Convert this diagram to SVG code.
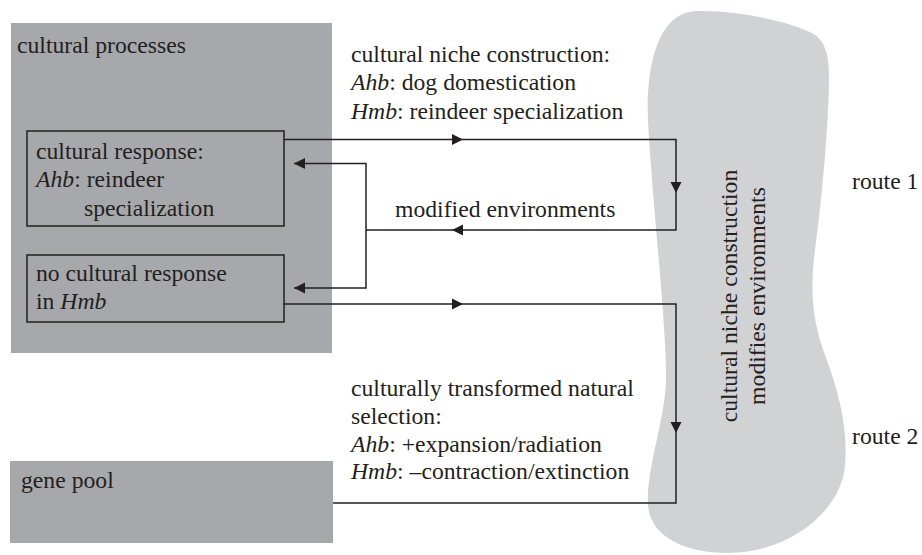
<svg xmlns="http://www.w3.org/2000/svg" xmlns:xlink="http://www.w3.org/1999/xlink" width="922" height="555" viewBox="0 0 922 555">
<style>
text{font-family:"Liberation Serif","Times New Roman",serif;font-size:23.7px;fill:#231f20}
.i{font-style:italic}
.box{fill:#a7a8ab}
.inner{fill:none;stroke:#231f20;stroke-width:1.5}
.conn{fill:none;stroke:#231f20;stroke-width:1.5}
.ah{fill:#231f20}
</style>
<defs>
<path id="ah" d="M0,0 L-11,-5.5 L-11,5.5 Z"/>
</defs>
<rect width="922" height="555" fill="#ffffff"/>
<g id="environment">
<path d="M697,11 C740,10 790,22 812,33 C825,40 829,55 829,75 C829,120 822,200 815,250 C810,290 812,320 825,355 C840,395 848,430 845,465 C842,510 790,553 728,553 C682,553 650,535 648,505 C646,470 665,420 666,380 C667,330 652,200 648,120 C646,60 660,12 697,11 Z" fill="#d1d2d4"/>
<text transform="translate(737,296) rotate(-90)" text-anchor="middle">cultural niche construction</text>
<text transform="translate(765,296) rotate(-90)" text-anchor="middle">modifies environments</text>
</g>
<g id="cultural-processes">
<rect class="box" x="11" y="23" width="321" height="330"/>
<text x="17" y="53">cultural processes</text>
</g>
<g id="cultural-response">
<rect class="inner" x="27" y="131" width="257" height="95"/>
<text x="36" y="159">cultural response:</text>
<text x="36" y="187"><tspan class="i">Ahb</tspan>: reindeer</text>
<text x="84" y="215.5">specialization</text>
</g>
<g id="no-cultural-response">
<rect class="inner" x="27" y="255" width="257" height="67"/>
<text x="36" y="281">no cultural response</text>
<text x="36" y="309">in <tspan class="i">Hmb</tspan></text>
</g>
<g id="gene-pool">
<rect class="box" x="10" y="461" width="323" height="82"/>
<text x="21" y="488">gene pool</text>
</g>
<g id="connectors">
<path class="conn" d="M284,139.5 H676 V230 H366"/>
<path class="conn" d="M294,163.5 H366 V288 H294"/>
<path class="conn" d="M284,304 H676 V503 H333"/>
<use class="ah" xlink:href="#ah" transform="translate(463,139.5)"/>
<use class="ah" xlink:href="#ah" transform="translate(676,193) rotate(90)"/>
<use class="ah" xlink:href="#ah" transform="translate(452,230) rotate(180)"/>
<use class="ah" xlink:href="#ah" transform="translate(294,163.5) rotate(180)"/>
<use class="ah" xlink:href="#ah" transform="translate(294,288) rotate(180)"/>
<use class="ah" xlink:href="#ah" transform="translate(463,304)"/>
<use class="ah" xlink:href="#ah" transform="translate(676,433) rotate(90)"/>
</g>
<g id="labels">
<text x="351" y="62">cultural niche construction:</text>
<text x="351" y="90"><tspan class="i">Ahb</tspan>: dog domestication</text>
<text x="351" y="118.5"><tspan class="i">Hmb</tspan>: reindeer specialization</text>
<text x="395" y="217">modified environments</text>
<text x="351" y="396">culturally transformed natural</text>
<text x="351" y="424">selection:</text>
<text x="351" y="452"><tspan class="i">Ahb</tspan>: +expansion/radiation</text>
<text x="351" y="479"><tspan class="i">Hmb</tspan>: –contraction/extinction</text>
<text x="852" y="189">route 1</text>
<text x="852" y="444">route 2</text>
</g>
</svg>
